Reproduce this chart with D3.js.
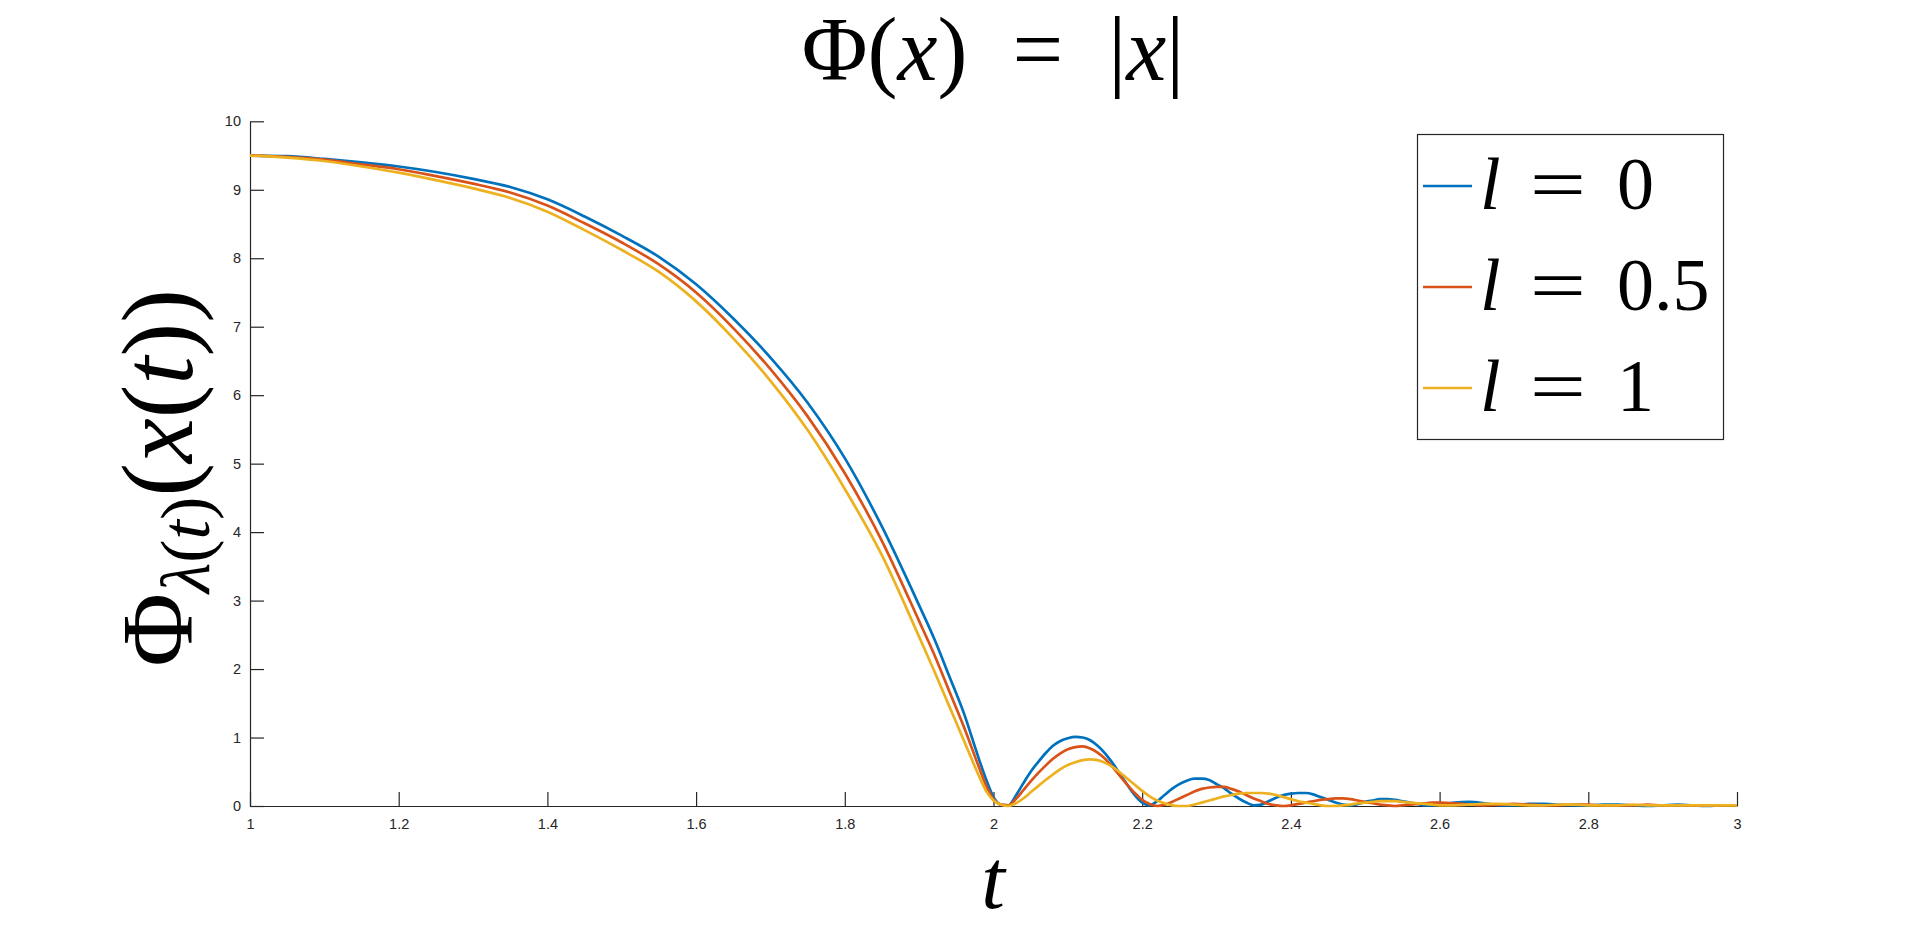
<!DOCTYPE html>
<meta charset="utf-8">
<style>
  body { margin: 0; background: #fff; }
  .tick text { font-family: "Liberation Sans", Arial, sans-serif; font-size: 14.5px; fill: #262626; }
  .tex { font-family: "Liberation Serif", "Times New Roman", serif; fill: #000; }
</style>
<svg width="1920" height="936"></svg>

<script src="https://d3js.org/d3.v7.min.js"></script>
<script>

// sample times (t) shared by all three curves
var tVals = [1.00,1.05,1.10,1.15,1.20,1.25,1.30,1.35,1.40,1.45,1.50,1.55,1.60,1.65,1.70,1.75,1.80,1.85,
  1.90,1.92,1.94,1.96,1.98,1.99,2.00,
  2.01,2.02,2.03,2.04,2.05,2.06,2.07,2.08,2.09,2.10,
  2.11,2.12,2.13,2.14,2.15,2.16,2.17,2.18,2.19,2.20,
  2.21,2.22,2.23,2.24,2.25,2.26,2.27,2.28,2.29,2.30,
  2.31,2.32,2.33,2.34,2.35,2.36,2.37,2.38,2.39,2.40,
  2.41,2.42,2.43,2.44,2.45,2.46,2.47,2.48,2.49,2.50,
  2.51,2.52,2.53,2.54,2.55,2.56,2.57,2.58,2.59,2.60,
  2.62,2.64,2.66,2.68,2.70,2.72,2.74,2.76,2.78,2.80,
  2.82,2.84,2.86,2.88,2.90,2.92,2.94,2.96,2.98,3.00]

// l = 0
var phiL0 = [9.50,9.49,9.45,9.40,9.34,9.26,9.16,9.04,8.86,8.61,8.33,8.02,7.62,7.12,6.55,5.89,5.08,4.08,
  2.93,2.45,1.91,1.36,0.70,0.39,0.13,
  0.02,0.01,0.15,0.33,0.50,0.64,0.77,0.88,0.95,0.99,
  1.01,1.00,0.96,0.88,0.77,0.63,0.47,0.31,0.16,0.05,
  0.01,0.07,0.16,0.25,0.32,0.37,0.40,0.40,0.38,0.32,
  0.26,0.18,0.11,0.05,0.01,0.02,0.07,0.12,0.16,0.18,
  0.19,0.19,0.17,0.13,0.09,0.05,0.02,0.01,0.03,0.06,
  0.08,0.10,0.10,0.09,0.07,0.05,0.03,0.01,0.01,0.02,
  0.05,0.06,0.04,0.01,0.01,0.03,0.03,0.02,0.01,0.01,
  0.02,0.02,0.01,0.00,0.01,0.02,0.01,0.00,0.01,0.01]

// l = 0.5
var phiL05 = [9.50,9.48,9.44,9.37,9.30,9.20,9.09,8.96,8.77,8.51,8.23,7.91,7.50,6.98,6.38,5.69,4.86,3.87,
  2.70,2.22,1.69,1.16,0.58,0.30,0.10,
  0.02,0.01,0.10,0.23,0.36,0.48,0.59,0.69,0.77,0.83,
  0.86,0.87,0.84,0.78,0.69,0.57,0.44,0.31,0.19,0.09,
  0.03,0.00,0.02,0.06,0.11,0.16,0.21,0.25,0.27,0.28,
  0.28,0.25,0.21,0.16,0.11,0.07,0.03,0.01,0.00,0.01,
  0.03,0.05,0.07,0.09,0.10,0.11,0.11,0.10,0.08,0.06,
  0.04,0.02,0.01,0.00,0.01,0.02,0.03,0.04,0.05,0.05,
  0.04,0.02,0.01,0.02,0.03,0.02,0.01,0.01,0.02,0.02,
  0.01,0.01,0.01,0.02,0.01,0.01,0.01,0.01,0.01,0.01]

// l = 1
var phiL1 = [9.50,9.47,9.42,9.34,9.25,9.14,9.02,8.88,8.68,8.41,8.12,7.80,7.37,6.83,6.21,5.49,4.63,3.66,
  2.47,1.98,1.47,0.96,0.45,0.22,0.08,
  0.02,0.00,0.04,0.11,0.20,0.29,0.38,0.46,0.54,0.60,
  0.64,0.67,0.68,0.67,0.63,0.57,0.49,0.40,0.31,0.22,
  0.14,0.08,0.04,0.01,0.00,0.00,0.02,0.05,0.08,0.11,
  0.14,0.16,0.18,0.19,0.19,0.19,0.18,0.16,0.13,0.10,
  0.07,0.05,0.03,0.01,0.00,0.00,0.01,0.02,0.04,0.05,
  0.06,0.07,0.07,0.07,0.06,0.05,0.04,0.03,0.02,0.01,
  0.01,0.02,0.03,0.03,0.02,0.01,0.01,0.02,0.02,0.01,
  0.01,0.01,0.02,0.01,0.01,0.01,0.01,0.01,0.01,0.01]

var seriesNames = ['0', '0.5', '1']
var seriesColors = ['#0072BD', '#D95319', '#EDB120']
var xTicks = [1, 1.2, 1.4, 1.6, 1.8, 2, 2.2, 2.4, 2.6, 2.8, 3]
var yTicks = [0, 1, 2, 3, 4, 5, 6, 7, 8, 9, 10]

var series = [phiL0, phiL05, phiL1].map(function (vals, i) {
  return { name: seriesNames[i], color: seriesColors[i],
    points: vals.map(function (v, j) { return [tVals[j], v] }) }
})

// plot box (window.top is read-only, so no bare "top" here)
var plotLeft = 250, plotRight = 1737, plotTop = 121.3, plotBottom = 806
var svg = d3.select('svg')

var x = d3.scaleLinear().domain([1, 3]).range([plotLeft, plotRight])
var y = d3.scaleLinear().domain([0, 10]).range([plotBottom, plotTop])

// axes: ticks point inward, no box
var xAxis = d3.axisBottom(x).tickValues(xTicks).tickFormat(d3.format('~g'))
  .tickSizeInner(-14).tickSizeOuter(0).tickPadding(13)
var yAxis = d3.axisLeft(y).tickValues(yTicks).tickFormat(d3.format('d'))
  .tickSizeInner(-14).tickSizeOuter(0).tickPadding(9)

var gx = svg.append('g').attr('transform', 'translate(0,' + plotBottom + ')').call(xAxis)
var gy = svg.append('g').attr('transform', 'translate(' + plotLeft + ',0)').call(yAxis)
svg.selectAll('.domain, .tick line').attr('stroke', '#262626').attr('stroke-width', 1.2)
gx.selectAll('.tick text').attr('fill', '#262626')
gy.selectAll('.tick text').attr('fill', '#262626')

var lineGen = d3.line()
  .x(function (d) { return x(d[0]) })
  .y(function (d) { return y(d[1]) })
  .curve(d3.curveMonotoneX)

svg.append('g').selectAll('path')
  .data(series)
  .enter().append('path')
    .attr('d', function (s) { return lineGen(s.points) })
    .attr('fill', 'none')
    .attr('stroke', function (s) { return s.color })
    .attr('stroke-width', 2.7)
    .attr('stroke-linejoin', 'round')

// title  Phi(x) = |x|
var title = svg.append('text').attr('class', 'tex')
  .attr('x', 993).attr('y', 80).attr('text-anchor', 'middle')
  .attr('font-size', 90)
title.append('tspan').text('Φ(')
title.append('tspan').attr('font-style', 'italic').text('x')
title.append('tspan').text(')\u2002=\u2002|')
title.append('tspan').attr('font-style', 'italic').text('x')
title.append('tspan').text('|')

// x label
svg.append('text').attr('class', 'tex')
  .attr('x', 993).attr('y', 908).attr('text-anchor', 'middle')
  .attr('font-size', 85).attr('font-style', 'italic')
  .text('t')

// y label  Phi_{lambda(t)}(x(t))
var ylab = svg.append('text').attr('class', 'tex')
  .attr('transform', 'translate(192,478) rotate(-90)')
  .attr('text-anchor', 'middle')
  .attr('font-size', 101)
ylab.append('tspan').text('Φ')
ylab.append('tspan').attr('font-size', 70).attr('dy', 17).attr('font-style', 'italic').text('λ')
ylab.append('tspan').attr('font-size', 70).text('(')
ylab.append('tspan').attr('font-size', 70).attr('font-style', 'italic').text('t')
ylab.append('tspan').attr('font-size', 70).text(')')
ylab.append('tspan').attr('dy', -17).text('(')
ylab.append('tspan').attr('font-style', 'italic').text('x')
ylab.append('tspan').text('(')
ylab.append('tspan').attr('font-style', 'italic').text('t')
ylab.append('tspan').text('))')

// legend
var legend = svg.append('g')
legend.append('rect')
  .attr('x', 1417.5).attr('y', 134.5).attr('width', 306).attr('height', 305)
  .attr('fill', '#fff').attr('stroke', '#262626').attr('stroke-width', 1.2)

var rows = legend.selectAll('g.row')
  .data(series)
  .enter().append('g')
    .attr('class', 'row')
    .attr('transform', function (s, i) { return 'translate(0,' + (186 + i * 101) + ')' })

rows.append('line')
  .attr('x1', 1423).attr('x2', 1472).attr('y1', 0).attr('y2', 0)
  .attr('stroke', function (s) { return s.color }).attr('stroke-width', 2.7)

rows.append('text').attr('class', 'tex')
  .attr('x', 1480).attr('y', 23).attr('font-size', 74).attr('font-style', 'italic')
  .text('l')
rows.append('text').attr('class', 'tex')
  .attr('x', 1558).attr('y', 23).attr('font-size', 74).attr('text-anchor', 'middle')
  .attr('transform', 'translate(1558,0) scale(1.35,1) translate(-1558,0)')
  .text('=')
rows.append('text').attr('class', 'tex')
  .attr('x', 1617).attr('y', 23).attr('font-size', 74)
  .text(function (s) { return s.name })

</script>
